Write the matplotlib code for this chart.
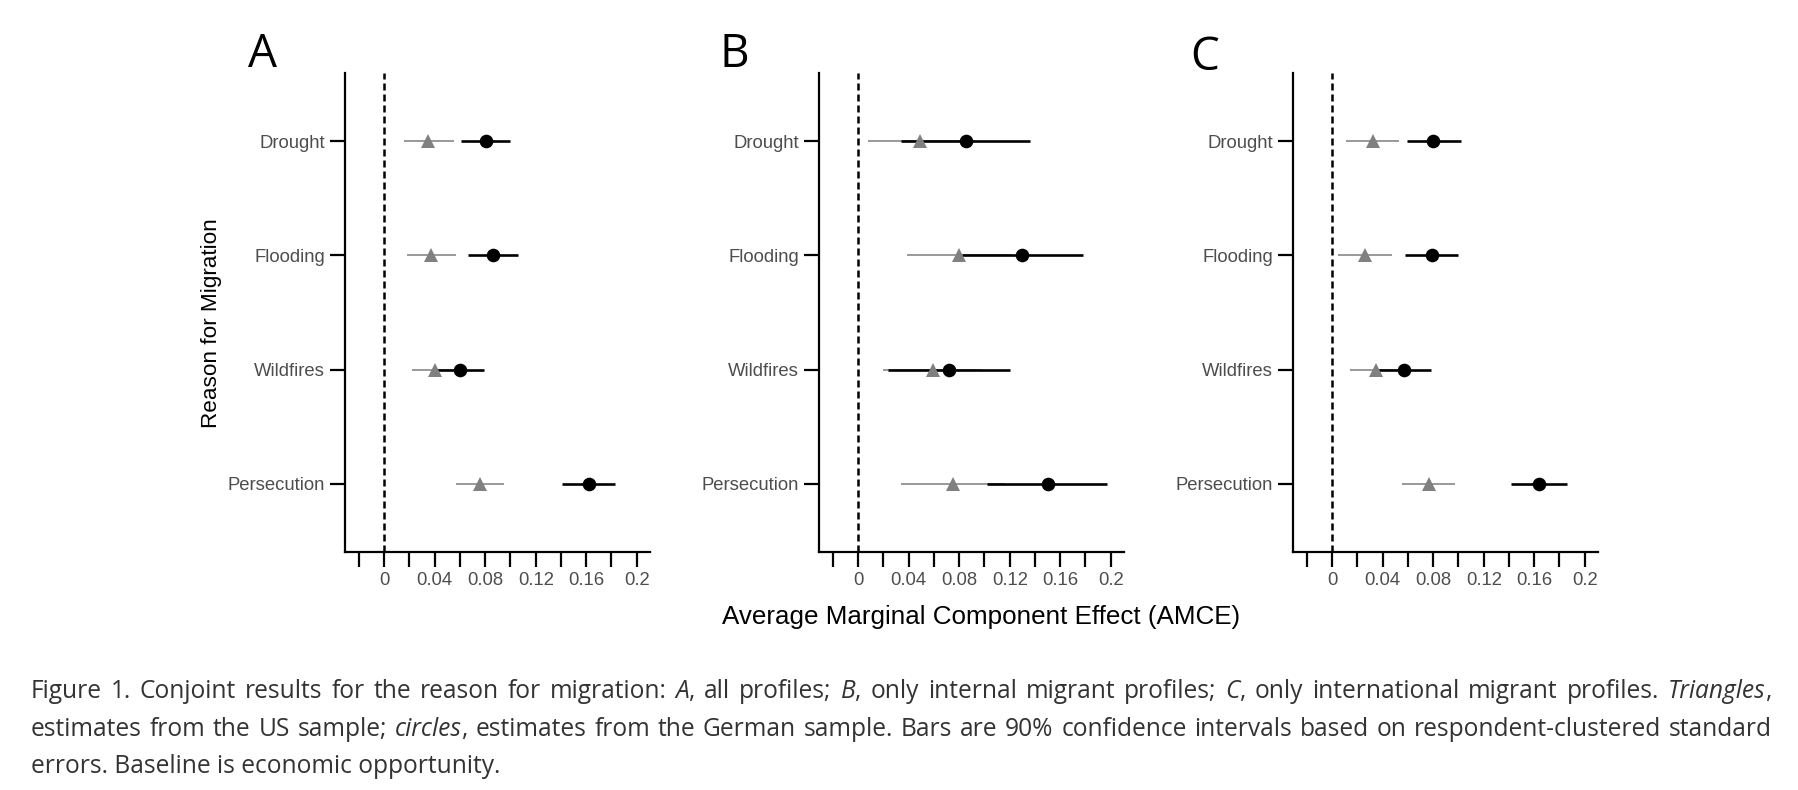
import matplotlib
matplotlib.use("Agg")
import matplotlib.pyplot as plt

plt.rcParams["font.family"] = ["Liberation Sans", "DejaVu Sans"]

reasons = ["Drought", "Flooding", "Wildfires", "Persecution"]
panel_names = ["A", "B", "C"]

# US sample (triangles): estimate and 90% CI, panel A = all profiles
us_est_a = [0.035, 0.037, 0.040, 0.076]
us_lo_a = [0.016, 0.018, 0.022, 0.057]
us_hi_a = [0.055, 0.057, 0.058, 0.095]
# German sample (circles)
de_est_a = [0.081, 0.086, 0.060, 0.162]
de_lo_a = [0.061, 0.066, 0.041, 0.141]
de_hi_a = [0.100, 0.106, 0.079, 0.183]

# panel B = internal migrant profiles
us_est_b = [0.049, 0.080, 0.059, 0.075]
us_lo_b = [0.008, 0.039, 0.020, 0.034]
us_hi_b = [0.090, 0.121, 0.098, 0.116]
de_est_b = [0.085, 0.130, 0.072, 0.150]
de_lo_b = [0.034, 0.082, 0.024, 0.102]
de_hi_b = [0.136, 0.178, 0.120, 0.197]

# panel C = international migrant profiles
us_est_c = [0.032, 0.026, 0.035, 0.077]
us_lo_c = [0.011, 0.005, 0.014, 0.055]
us_hi_c = [0.053, 0.047, 0.056, 0.097]
de_est_c = [0.080, 0.079, 0.057, 0.164]
de_lo_c = [0.059, 0.058, 0.036, 0.142]
de_hi_c = [0.102, 0.100, 0.078, 0.186]

xticks = [-0.02, 0, 0.02, 0.04, 0.06, 0.08, 0.10, 0.12, 0.14, 0.16, 0.18, 0.2]
xtick_labels = ["", "0", "", "0.04", "", "0.08", "", "0.12", "", "0.16", "", "0.2"]

caption_lines = [
    "Figure 1. Conjoint results for the reason for migration: *A*, all profiles; "
    "*B*, only internal migrant profiles; *C*, only international migrant profiles. *Triangles*,",
    "estimates from the US sample; *circles*, estimates from the German sample. "
    "Bars are 90% confidence intervals based on respondent-clustered standard",
    "errors. Baseline is economic opportunity.",
]

W, H = 1798, 790
fig = plt.figure(figsize=(W / 100, H / 100), dpi=100)

panel_data = [
    (us_est_a, us_lo_a, us_hi_a, de_est_a, de_lo_a, de_hi_a),
    (us_est_b, us_lo_b, us_hi_b, de_est_b, de_lo_b, de_hi_b),
    (us_est_c, us_lo_c, us_hi_c, de_est_c, de_lo_c, de_hi_c),
]
panel_left = [345, 819, 1293]
panel_label_pos = [(248, 67), (720, 67), (1190, 70)]
ypos = [4, 3, 2, 1]

for i, (us_est, us_lo, us_hi, de_est, de_lo, de_hi) in enumerate(panel_data):
    ax = fig.add_axes([panel_left[i] / W, 1 - 552 / H, 305 / W, (552 - 73) / H])
    ax.axvline(0, color="black", lw=1.8, dashes=(2.8, 1.6), zorder=1)
    ax.hlines(ypos, us_lo, us_hi, color="#999999", lw=1.4, zorder=2)
    ax.hlines(ypos, de_lo, de_hi, color="black", lw=1.9, zorder=3)
    ax.plot(us_est, ypos, "^", color="#808080", ms=10.5, mew=0, zorder=4)
    ax.plot(de_est, ypos, "o", color="black", ms=9.8, mew=0, zorder=5)

    ax.set_xlim(-0.031, 0.2105)
    ax.set_ylim(0.4, 4.6)
    ax.set_xticks(xticks)
    ax.set_xticklabels(xtick_labels)
    ax.set_yticks(ypos)
    ax.set_yticklabels(reasons)
    ax.tick_params(length=10.8, width=1.6, color="black", labelcolor="#4d4d4d",
                   labelsize=13.3, pad=3.6)
    for side in ["top", "right"]:
        ax.spines[side].set_visible(False)
    for side in ["left", "bottom"]:
        ax.spines[side].set_linewidth(1.6)

    lx, ly = panel_label_pos[i]
    fig.text(lx / W, 1 - ly / H, panel_names[i], fontsize=33,
             family="Open Sans", va="baseline", ha="left")

fig.text(212 / W, 1 - 323 / H, "Reason for Migration", rotation=90,
         fontsize=16.2, ha="center", va="center")
fig.text(981 / W, 1 - 617 / H, "Average Marginal Component Effect (AMCE)",
         fontsize=18.7, ha="center", va="center")

# caption, justified word by word
renderer = fig.canvas.get_renderer()
x0, x1 = 31, 1772
baselines = [698, 736, 773]

# size the caption font so the first line nearly fills the width
probe = fig.text(0, 0, caption_lines[0].replace("*", ""), family="Open Sans", fontsize=16)
natural = probe.get_window_extent(renderer).width
probe.remove()
cap_size = 16 * (x1 - x0) / natural * 0.975
cap_font = dict(family="Open Sans", fontsize=cap_size, color="#333333", va="baseline")

for n, line in enumerate(caption_lines):
    if n == len(caption_lines) - 1:
        fig.text(x0 / W, 1 - baselines[n] / H, line.replace("*", ""), **cap_font)
        continue
    words = []
    for w in line.split(" "):
        segs = []
        for k, part in enumerate(w.split("*")):
            if part:
                t = fig.text(0, 0, part, style="italic" if k % 2 else "normal", **cap_font)
                segs.append((t, t.get_window_extent(renderer).width))
        words.append(segs)
    widths = [sum(s[1] for s in segs) for segs in words]
    gap = (x1 - x0 - sum(widths)) / (len(words) - 1)
    x = x0
    for segs, wd in zip(words, widths):
        xx = x
        for t, sw in segs:
            t.set_position((xx / W, 1 - baselines[n] / H))
            xx += sw
        x += wd + gap

fig.savefig("out.png", dpi=100)
